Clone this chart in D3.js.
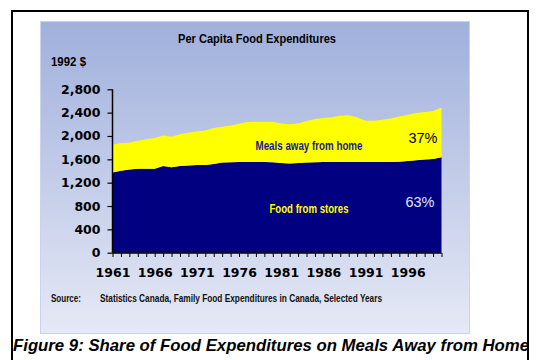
<!DOCTYPE html>
<html>
<head>
<meta charset="utf-8">
<script src="https://cdn.jsdelivr.net/npm/d3@7"></script>
<style>
html,body{margin:0;padding:0;background:#fff;}
svg{display:block;}
</style>
</head>
<body>
<svg id="chart" width="541" height="360"></svg>
<script>
// ---- Data (1992 $ per capita) ----
const years = d3.range(1961, 2001);
const storesValues = [1375,1405,1425,1440,1440,1440,1485,1463,1485,1495,
                      1502,1502,1520,1545,1550,1554,1554,1554,1554,1550,
                      1535,1530,1535,1545,1552,1555,1555,1555,1555,1555,
                      1555,1555,1555,1555,1560,1570,1585,1595,1605,1635];
const awayValues   = [475,475,460,480,505,525,525,524,545,560,
                      573,593,615,615,630,656,686,691,691,692,
                      680,670,680,710,738,755,765,790,800,765,
                      707,707,725,745,775,795,810,815,825,855];
const seriesNames = ["Food from stores", "Meals away from home"];
const yTicks = [0,400,800,1200,1600,2000,2400,2800];
const xTickLabels = [1961,1966,1971,1976,1981,1986,1991,1996];

const svg = d3.select("#chart");
const defs = svg.append("defs");
const grad = defs.append("linearGradient").attr("id","bg").attr("x1",0).attr("y1",0).attr("x2",0).attr("y2",1);
grad.append("stop").attr("offset","0%").attr("stop-color","#a0b0dc");
grad.append("stop").attr("offset","100%").attr("stop-color","#e6e9f6");

// outer frame
svg.append("rect").attr("x",12).attr("y",11).attr("width",516).attr("height",360)
  .attr("fill","#fff").attr("stroke","#000").attr("stroke-width",2);

// panel
svg.append("rect").attr("x",40.5).attr("y",21.5).attr("width",429).attr("height",312)
  .attr("fill","url(#bg)").attr("stroke","#c9d2ee").attr("stroke-width",1);

const narrow = "'Liberation Sans Narrow','Arial Narrow','Liberation Sans',Arial,sans-serif";
const wide = "'DejaVu Sans',Verdana,sans-serif";

svg.append("text").attr("x",257).attr("y",43).attr("text-anchor","middle")
  .attr("font-family",narrow).attr("font-weight","bold").attr("font-size",13.5)
  .attr("textLength",158).attr("lengthAdjust","spacingAndGlyphs")
  .text("Per Capita Food Expenditures");
svg.append("text").attr("x",51).attr("y",66)
  .attr("font-family",narrow).attr("font-weight","bold").attr("font-size",12.5)
  .attr("textLength",35).attr("lengthAdjust","spacingAndGlyphs")
  .text("1992 $");

// scales
const x = d3.scalePoint().domain(years).range([112.5, 441.5]);
const y = d3.scaleLinear().domain([0, 2800]).range([252.7, 89.3]);

const table = years.map((yr,i)=>({year:yr, stores:storesValues[i], away:awayValues[i]}));
const stack = d3.stack().keys(["stores","away"]);
const layers = stack(table);
const colors = ["#000080","#ffff00"];
const area = d3.area().x(d=>x(d.data.year)).y0(d=>y(d[0])).y1(d=>y(d[1]));

svg.append("g").selectAll("path").data(layers).join("path")
  .attr("d", area).attr("fill",(d,i)=>colors[i]);

// y axis
const yAxis = d3.axisLeft(y).tickValues(yTicks).tickFormat(d3.format(",")).tickSize(5).tickPadding(7);
const gy = svg.append("g").attr("transform","translate(112.5,0)").call(yAxis);
gy.select(".domain").attr("stroke","#000").attr("stroke-width",1.5).attr("d","M-0,89.3V252.7");
gy.selectAll(".tick line").attr("stroke","#000").attr("stroke-width",1.2);
gy.selectAll("text").attr("font-family",wide).attr("font-weight","bold").attr("font-size",12.5).attr("fill","#000");

// x axis
const xAxis = d3.axisBottom(x).tickValues(years).tickSize(4).tickFormat(d=> xTickLabels.includes(d) ? d : "");
const gx = svg.append("g").attr("transform","translate(0,253)").call(xAxis);
gx.select(".domain").attr("stroke","#000").attr("stroke-width",1.5).attr("d","M112.5,0H441.5");
gx.selectAll(".tick line").attr("stroke","#000").attr("stroke-width",1);
gx.selectAll("text").attr("font-family",wide).attr("font-weight","bold").attr("font-size",12.5)
  .attr("fill","#000").attr("dy",0).attr("y",23.5);

// series labels
svg.append("text").attr("x",309).attr("y",150).attr("text-anchor","middle")
  .attr("font-family",narrow).attr("font-weight","bold").attr("font-size",13.5).attr("fill","#1a1a8c")
  .attr("textLength",107).attr("lengthAdjust","spacingAndGlyphs").text(seriesNames[1]);
svg.append("text").attr("x",309).attr("y",213).attr("text-anchor","middle")
  .attr("font-family",narrow).attr("font-weight","bold").attr("font-size",13.5).attr("fill","#ffff00")
  .attr("textLength",79).attr("lengthAdjust","spacingAndGlyphs").text(seriesNames[0]);

const shareAway = "37%", shareStores = "63%";
svg.append("text").attr("x",423).attr("y",142.5).attr("text-anchor","middle")
  .attr("font-family","'Liberation Sans',Arial,sans-serif").attr("font-size",14.5).attr("fill","#000")
  .text(shareAway);
svg.append("text").attr("x",420).attr("y",207).attr("text-anchor","middle")
  .attr("font-family","'Liberation Sans',Arial,sans-serif").attr("font-size",14.5).attr("fill","#e6e6ff")
  .text(shareStores);

// source
svg.append("text").attr("x",51).attr("y",302)
  .attr("font-family",narrow).attr("font-weight","bold").attr("font-size",10).attr("fill","#111")
  .attr("textLength",30).attr("lengthAdjust","spacingAndGlyphs").text("Source:");
svg.append("text").attr("x",100).attr("y",302)
  .attr("font-family",narrow).attr("font-weight","bold").attr("font-size",10).attr("fill","#111")
  .attr("textLength",282).attr("lengthAdjust","spacingAndGlyphs")
  .text("Statistics Canada, Family Food Expenditures in Canada, Selected Years");

// caption
svg.append("text").attr("x",13).attr("y",351)
  .attr("font-family","'Liberation Sans',Arial,sans-serif").attr("font-weight","bold").attr("font-style","italic")
  .attr("font-size",17).attr("fill","#000")
  .attr("textLength",516).attr("lengthAdjust","spacingAndGlyphs")
  .text("Figure 9: Share of Food Expenditures on Meals Away from Home");
</script>
</body>
</html>
